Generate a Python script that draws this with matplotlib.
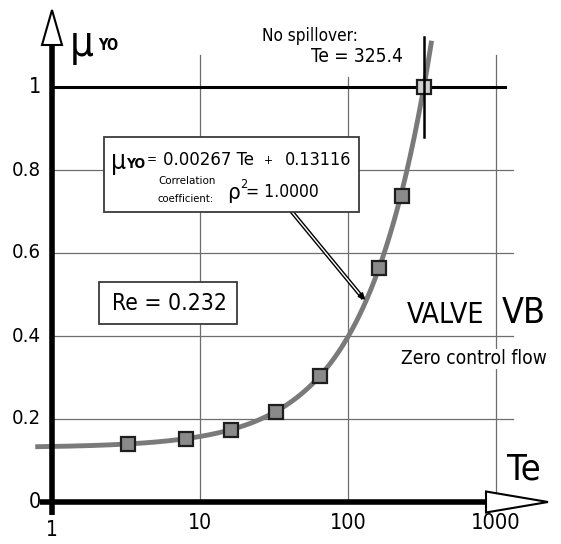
import matplotlib
matplotlib.use('Agg')
import matplotlib.pyplot as plt
from matplotlib import font_manager as fm
from matplotlib.patches import Polygon, Rectangle
import numpy as np

# use a narrow/condensed face if the system has one
narrow = None
for f in fm.fontManager.ttflist:
    if f.style != 'normal' or f.weight not in (400, 'normal', 'regular'):
        continue
    if 'Narrow' in f.name or 'Condensed' in f.name or f.stretch in ('condensed', 'semi-condensed'):
        narrow = f
        break
if narrow is not None:
    plt.rcParams['font.family'] = [narrow.name, 'DejaVu Sans']
    plt.rcParams['font.stretch'] = narrow.stretch
else:
    plt.rcParams['font.family'] = ['DejaVu Sans']

# measured points (Te, mu_YO)
te = [3.25, 8.1, 16.3, 32.5, 65, 162, 230, 325.4]
mu = [0.140, 0.152, 0.173, 0.217, 0.304, 0.564, 0.737, 1.0]
# fit printed on the chart
fit_slope = 0.00267
fit_icpt = 0.13116

y_ticks = [0, 0.2, 0.4, 0.6, 0.8, 1]
y_tick_labels = ['0', '0.2', '0.4', '0.6', '0.8', '1']
x_ticks = [10, 100, 1000]
x_tick_labels = ['10', '100', '1000']

W, H = 561, 544
X0, DEC = 52, 148      # pixel of Te=1, pixels per decade
Y0, UNIT = 502, 415    # pixel of mu=0, pixels per unit


def xd(p):
    return 10 ** ((p - X0) / DEC)


def yd(p):
    return (Y0 - p) / UNIT


fig = plt.figure(figsize=(W / 100, H / 100), dpi=100)
ax = fig.add_axes([0, 0, 1, 1])
ax.set_xscale('log')
ax.set_xlim(xd(0), xd(W))
ax.set_ylim(yd(H), yd(0))
ax.axis('off')

fits = []  # (text, max width in px)


def t(x, y, s, w=None, **kw):
    kw.setdefault('zorder', 9)
    a = ax.text(x / W, 1 - y / H, s, transform=ax.transAxes, **kw)
    if w:
        fits.append((a, w))
    return a


# grid
for v in y_ticks[1:-1]:
    ax.plot([1, xd(513)], [v, v], color='#6e6e6e', lw=0.9, zorder=1)
for v, top in zip(x_ticks, [1.077, 1.024, 1.077]):
    ax.plot([v, v], [0, top], color='#6e6e6e', lw=0.9, zorder=1)
ax.plot([1, xd(505)], [1, 1], color='k', lw=2.2, zorder=2)

# axes with hollow arrows
ax.plot([xd(40), xd(486)], [0, 0], color='k', lw=4, solid_capstyle='butt', zorder=6)
ax.plot([1, 1], [yd(515), yd(45)], color='k', lw=4, solid_capstyle='butt', zorder=6)
ax.add_patch(Polygon([(xd(486), 10.5 / UNIT), (xd(486), -10.5 / UNIT), (xd(548), 0)],
                     closed=True, fc='white', ec='k', lw=1.5, zorder=7))
ax.add_patch(Polygon([(xd(42), yd(45)), (xd(62), yd(45)), (1, yd(10))],
                     closed=True, fc='white', ec='k', lw=1.5, zorder=7))

# fitted curve and points
tt = np.logspace(np.log10(0.8), np.log10(365), 300)
ax.plot(tt, fit_slope * tt + fit_icpt, color='#7a7a7a', lw=3.5, zorder=3)
ax.plot(te[:-1], mu[:-1], 's', ms=10.5, mfc='#8a8a8a', mec='#1e1e1e', mew=1.6, zorder=5)
ax.plot(te[-1:], mu[-1:], 's', ms=10.5, mfc='#d0d0d0', mec='#1e1e1e', mew=1.6, zorder=5)
ax.plot([te[-1], te[-1]], [yd(137), yd(37)], color='k', lw=1.8, zorder=6)

# tick labels
for v, lab in zip(y_ticks, y_tick_labels):
    a = ax.text(xd(41), v, lab, ha='right', va='center', fontsize=15.5)
    fits.append((a, 29))
for v, lab, w in zip(x_ticks, x_tick_labels, [24, 37, 50]):
    a = ax.text(v, yd(523), lab, ha='center', va='center', fontsize=17)
    fits.append((a, w))
ax.text(1, yd(530), '1', ha='center', va='center', fontsize=15)

# axis titles
t(524, 470, 'Te', w=34, fontsize=26, ha='center', va='center')
t(82, 44, 'μ', fontsize=30, ha='center', va='center')
t(98, 46, 'YO', w=20, fontsize=13, fontweight='bold', va='center')

# no spillover note
t(262, 36, 'No spillover:', w=96, fontsize=16, va='center')
t(311, 57, 'Te = 325.4', w=92, fontsize=16, va='center')

# equation box
ax.add_patch(Rectangle((104 / W, 1 - 212 / H), 255 / W, 75 / H, transform=ax.transAxes,
                       fc='white', ec='#3a3a3a', lw=1.3, zorder=8))
t(119, 162, 'μ', fontsize=19, ha='center', va='center')
t(126, 164, 'YO', w=19, fontsize=11, fontweight='bold', va='center')
t(147, 160, '=', w=10, fontsize=17, va='center')
t(163, 160, '0.00267 Te', w=92, fontsize=16, va='center')
t(264, 160, '+', w=9, fontsize=12, va='center')
t(285, 160, '0.13116', w=67, fontsize=16, va='center')
t(158, 181, 'Correlation', w=57, fontsize=9, va='center')
t(158, 199, 'coefficient:', w=57, fontsize=9, va='center')
t(227, 193, 'ρ', fontsize=16, va='center')
t(240, 184, '2', fontsize=9, va='center')
t(246, 192, '= 1.0000', w=74, fontsize=16, va='center')

# leader from box to curve
ax.plot([292 / W, 362 / W], [1 - 212 / H, 1 - 297 / H], color='k', lw=3, transform=ax.transAxes, zorder=4)
ax.plot([292 / W, 362 / W], [1 - 212 / H, 1 - 297 / H], color='white', lw=1, transform=ax.transAxes, zorder=4)
ax.annotate('', xy=(367 / W, 1 - 302 / H), xytext=(358 / W, 1 - 292 / H),
            xycoords='axes fraction', textcoords='axes fraction',
            arrowprops=dict(arrowstyle='-|>', color='k', lw=1, mutation_scale=10), zorder=4)

# Re box
ax.add_patch(Rectangle((99 / W, 1 - 324 / H), 138 / W, 42 / H, transform=ax.transAxes,
                       fc='white', ec='#3a3a3a', lw=1.3, zorder=8))
t(112, 304, 'Re = 0.232', w=115, fontsize=22, va='center')

# valve caption
white = dict(fc='white', ec='none', pad=1)
t(407, 323, 'VALVE', w=78, fontsize=23, va='baseline', bbox=white)
t(502, 323, 'VB', w=44, fontsize=31, va='baseline', bbox=white)
t(401, 359, 'Zero control flow', w=146, fontsize=21, va='center', bbox=white)

# shrink texts that come out wider than in the original
renderer = fig.canvas.get_renderer()
for a, w in fits:
    bw = a.get_window_extent(renderer).width
    if bw > w:
        a.set_fontsize(a.get_fontsize() * w / bw)

fig.savefig('out.png', dpi=100)
